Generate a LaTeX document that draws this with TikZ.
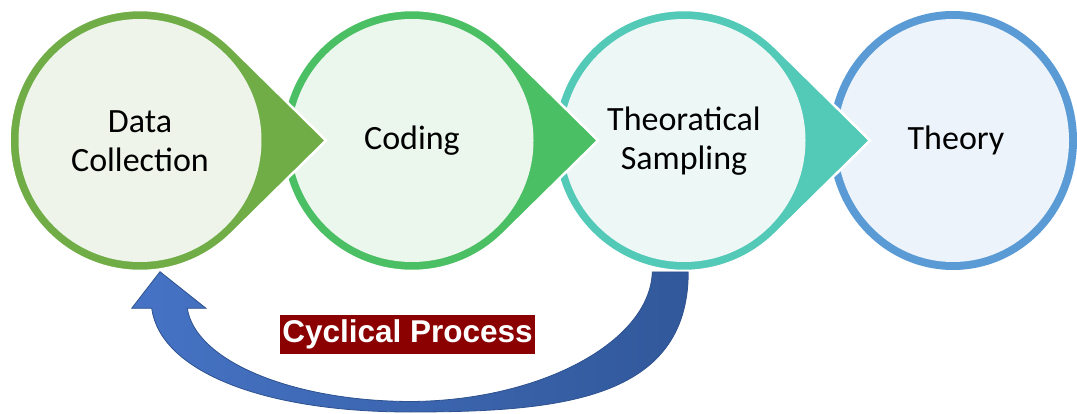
\documentclass[tikz,border=0pt]{standalone}
\usepackage{fontspec}
\setmainfont{Carlito}
\newfontfamily\labelfont{Liberation Sans}
\usetikzlibrary{calc}

\definecolor{ringA}{HTML}{70AD47}
\definecolor{fillA}{HTML}{EEF4E9}
\definecolor{ringB}{HTML}{4BBF63}
\definecolor{fillB}{HTML}{EBF6ED}
\definecolor{ringC}{HTML}{53C9B7}
\definecolor{fillC}{HTML}{EDF8F6}
\definecolor{ringD}{HTML}{5B9BD5}
\definecolor{fillD}{HTML}{ECF3FA}
\definecolor{loopL}{HTML}{4673C5}
\definecolor{loopR}{HTML}{31589A}
\definecolor{loopEdge}{HTML}{2E528F}
\definecolor{boxred}{HTML}{8B0000}

% circle with a pointed tip on its right side: centre, ring colour, inner colour
\newcommand\pointedstep[3]{%
  \fill[#2, draw=white, line width=2.5pt]
    ($(#1)+(186,0)$) -- ($(#1)+(45.88:130.5)$)
    arc[start angle=45.88, end angle=314.12, radius=130.5] -- cycle;
  \fill[#3] (#1) circle[radius=121.5];
}

\begin{document}
\begin{tikzpicture}[x=1pt,y=-1pt]
\tikzset{
  steptext/.style={align=center, text=black, inner sep=0pt,
    font=\fontsize{34}{39}\selectfont},
  tag/.style={fill=boxred, text=white, inner sep=0pt,
    minimum width=255pt, minimum height=38pt,
    font=\labelfont\bfseries\fontsize{31.5}{36}\selectfont},
}
\useasboundingbox (0,0) rectangle (1077,414);

\coordinate (c1) at (140,140.5);
\coordinate (c2) at (412,140.5);
\coordinate (c3) at (684,140.5);
\coordinate (c4) at (953,140.5);

% last circle: plain ring
\fill[ringD] (c4) ellipse[x radius=124, y radius=129.5];
\fill[fillD] (c4) ellipse[x radius=116, y radius=121.5];

% pointed circles, drawn right to left so each tip overlaps its neighbour
\pointedstep{c3}{ringC}{fillC}
\pointedstep{c2}{ringB}{fillB}
\pointedstep{c1}{ringA}{fillA}

\node[steptext] (s1) at ($(c1)+(0,1)$) {Data\\Collection};
\node[steptext] (s2) at (c2) {Coding};
\node[steptext] (s3) at ($(c3)+(0,1)$) {Theoratical\\Sampling};
\node[steptext] (s4) at ($(c4)+(3,0)$) {Theory};

% curved return arrow from the third step back to the first
\coordinate (loopin)  at ($(c3)+(-31.7,131.5)$);
\coordinate (loopout) at ($(c3)+(4.3,131.5)$);
\coordinate (looptip) at ($(c1)+(20,131.2)$);
\shadedraw[left color=loopL, right color=loopR, draw=loopEdge, line width=0.8pt]
  (loopin) .. controls (650,342) and (540,401) .. (410,401.5)
  .. controls (290,401) and (195,360) .. (187.3,308.3)
  -- (206,308.3) -- (looptip) -- (131.7,308.3) -- (151.7,308.3)
  .. controls (160,370) and (260,412) .. (410,412)
  .. controls (560,412) and (688,400) .. (loopout) -- cycle;

\node[tag] (cyc) at (407.5,334.5) {Cyclical Process};
\end{tikzpicture}
\end{document}
